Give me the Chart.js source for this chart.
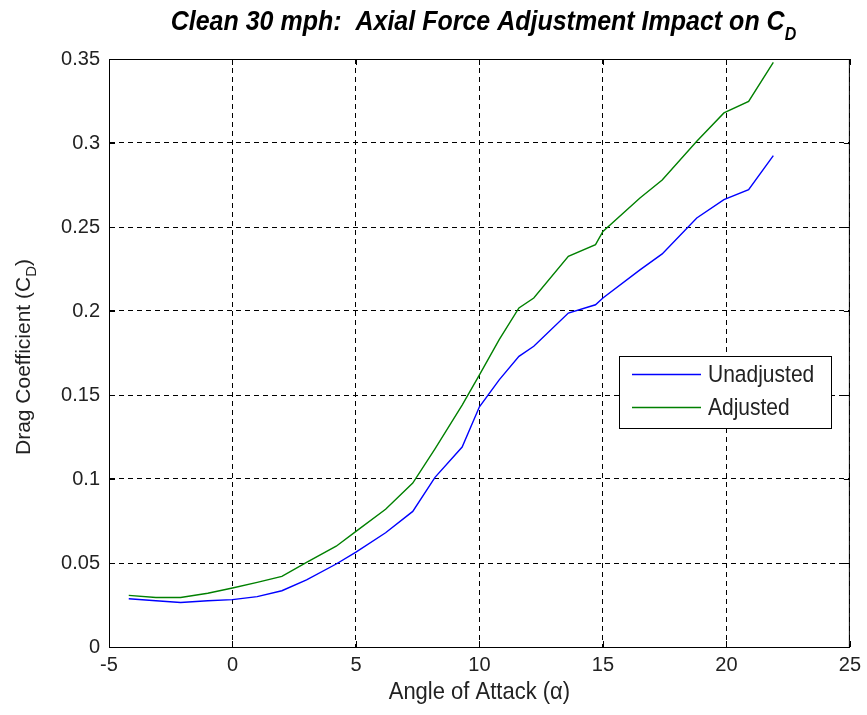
<!DOCTYPE html>
<html>
<head>
<meta charset="utf-8">
<script src="https://cdn.jsdelivr.net/npm/chart.js@4.4.1/dist/chart.umd.min.js"></script>
<style>
  html, body { margin: 0; padding: 0; background: #fff; }
  #wrap { width: 867px; height: 715px; }
</style>
</head>
<body>
<div id="wrap"><canvas id="cd-chart" width="867" height="715"></canvas></div>
<script>
// Angle of attack (deg) where the curves bend
var angles = [-4.2, -3.1, -2.1, -1.0, 0, 1, 2, 3, 4.2, 5, 6.2, 7.3, 8.2, 9.3, 10, 10.8,
              11.6, 12.2, 13.6, 14.7, 15.0, 16.5, 17.4, 18.8, 19.9, 20.9, 21.9];

// Drag coefficient, unadjusted vs axial-force adjusted
var unadjusted = [0.0287, 0.0275, 0.0265, 0.0275, 0.0282, 0.0300, 0.0335, 0.0400, 0.0494, 0.0565,
                  0.0680, 0.0807, 0.1010, 0.1190, 0.1430, 0.1590, 0.1730, 0.1790, 0.1988, 0.2037,
                  0.2077, 0.2245, 0.2340, 0.2554, 0.2663, 0.2722, 0.2925];
var adjusted = [0.0307, 0.0295, 0.0295, 0.0320, 0.0351, 0.0385, 0.0420, 0.0504, 0.0600, 0.0688,
                0.0820, 0.0976, 0.1180, 0.1440, 0.1620, 0.1830, 0.2018, 0.2077, 0.2325, 0.2395,
                0.2474, 0.2673, 0.2780, 0.3010, 0.3179, 0.3248, 0.3480];

var seriesNames = ['Unadjusted', 'Adjusted'];
var xTicks = [-5, 0, 5, 10, 15, 20, 25];
var yTicks = [0, 0.05, 0.1, 0.15, 0.2, 0.25, 0.3, 0.35];

var FONT = "'Liberation Sans', Arial, sans-serif";

function pts(ys) {
  return ys.map(function (y, i) { return { x: angles[i], y: y }; });
}

// text drawn slightly taller than wide, like the original export
function tallText(ctx, txt, x, y) {
  ctx.save();
  ctx.translate(x, y);
  ctx.scale(1, 1.1);
  ctx.fillText(txt, 0, 0);
  ctx.restore();
}

// MATLAB-like box, inward ticks, titles and legend
var matlabDecor = {
  id: 'matlabDecor',
  afterDraw: function (chart) {
    var ctx = chart.ctx;
    var a = chart.chartArea;
    var xs = chart.scales.x, ys = chart.scales.y;
    ctx.save();
    ctx.strokeStyle = '#000';
    ctx.lineWidth = 1;
    ctx.setLineDash([]);
    ctx.strokeRect(a.left + 0.5, a.top + 0.5, a.right - a.left - 1, a.bottom - a.top);

    ctx.beginPath();
    xTicks.forEach(function (v) {
      var px = Math.round(xs.getPixelForValue(v)) + 0.5;
      ctx.moveTo(px, a.bottom); ctx.lineTo(px, a.bottom - 6);
      ctx.moveTo(px, a.top); ctx.lineTo(px, a.top + 6);
    });
    yTicks.forEach(function (v) {
      var py = Math.round(ys.getPixelForValue(v)) + 0.5;
      ctx.moveTo(a.left, py); ctx.lineTo(a.left + 6, py);
      ctx.moveTo(a.right, py); ctx.lineTo(a.right - 6, py);
    });
    ctx.stroke();

    // title with subscript D
    ctx.fillStyle = '#000';
    ctx.textBaseline = 'alphabetic';
    ctx.textAlign = 'left';
    ctx.font = 'italic bold 25px ' + FONT;
    var main = 'Clean 30 mph:  Axial Force Adjustment Impact on C';
    var wMain = ctx.measureText(main).width;
    ctx.font = 'italic bold 16px ' + FONT;
    var wSub = ctx.measureText('D').width;
    var cx = (a.left + a.right) / 2;
    var x0 = cx - (wMain + wSub) / 2 + 4;
    ctx.font = 'italic bold 25px ' + FONT;
    tallText(ctx, main, x0, 30);
    ctx.font = 'italic bold 16px ' + FONT;
    tallText(ctx, 'D', x0 + wMain, 40);

    // x axis title
    ctx.fillStyle = '#222';
    ctx.font = '22px ' + FONT;
    ctx.textAlign = 'center';
    tallText(ctx, 'Angle of Attack (\u03b1)', cx, 699);

    // y axis title, rotated, with subscript D
    ctx.save();
    ctx.translate(30, 357);
    ctx.rotate(-Math.PI / 2);
    ctx.font = '21px ' + FONT;
    var yMain = 'Drag Coefficient (C';
    var wy1 = ctx.measureText(yMain).width;
    ctx.font = '15px ' + FONT;
    var wy2 = ctx.measureText('D').width;
    ctx.font = '21px ' + FONT;
    var wy3 = ctx.measureText(')').width;
    var sx = -(wy1 + wy2 + wy3) / 2;
    ctx.textAlign = 'left';
    ctx.fillText(yMain, sx, 0);
    ctx.font = '15px ' + FONT;
    ctx.fillText('D', sx + wy1, 6);
    ctx.font = '21px ' + FONT;
    ctx.fillText(')', sx + wy1 + wy2, 0);
    ctx.restore();

    // legend box inside the axes
    var lx = 619, ly = 356, lw = 212, lh = 72;
    ctx.fillStyle = '#fff';
    ctx.fillRect(lx, ly, lw, lh);
    ctx.strokeStyle = '#000';
    ctx.lineWidth = 1;
    ctx.strokeRect(lx + 0.5, ly + 0.5, lw, lh);
    ctx.font = '21px ' + FONT;
    ctx.textAlign = 'left';
    ctx.textBaseline = 'middle';
    chart.data.datasets.forEach(function (ds, i) {
      var yy = ly + 18 + i * 33;
      ctx.strokeStyle = ds.borderColor;
      ctx.lineWidth = 1.3;
      ctx.beginPath();
      ctx.moveTo(lx + 13, yy + 0.5);
      ctx.lineTo(lx + 82, yy + 0.5);
      ctx.stroke();
      ctx.fillStyle = '#222';
      tallText(ctx, ds.label, lx + 89, yy + 2);
    });
    ctx.restore();
  }
};

new Chart(document.getElementById('cd-chart').getContext('2d'), {
  type: 'line',
  data: {
    datasets: [
      { label: seriesNames[0], data: pts(unadjusted), borderColor: '#0000ff',
        borderWidth: 1.4, pointRadius: 0, tension: 0, fill: false },
      { label: seriesNames[1], data: pts(adjusted), borderColor: '#008000',
        borderWidth: 1.4, pointRadius: 0, tension: 0, fill: false }
    ]
  },
  options: {
    responsive: false,
    animation: false,
    layout: { padding: { top: 59, right: 14, left: 0, bottom: 0 } },
    plugins: {
      legend: { display: false },
      title: { display: false },
      tooltip: { enabled: false }
    },
    scales: {
      x: {
        type: 'linear',
        min: -5, max: 25,
        afterFit: function (s) { s.height = 68; },
        afterBuildTicks: function (s) { s.ticks = xTicks.map(function (v) { return { value: v }; }); },
        ticks: {
          color: '#222', padding: 6,
          font: { family: FONT, size: 20 },
          callback: function (v) { return String(v); }
        },
        grid: { color: '#000', lineWidth: 1, drawTicks: false },
        border: { display: true, color: '#000', dash: [5, 4] }
      },
      y: {
        min: 0, max: 0.35,
        afterFit: function (s) { s.width = 109; },
        afterBuildTicks: function (s) { s.ticks = yTicks.map(function (v) { return { value: v }; }); },
        ticks: {
          color: '#222', padding: 9,
          font: { family: FONT, size: 20 },
          callback: function (v) { return String(Math.round(v * 100) / 100); }
        },
        grid: { color: '#000', lineWidth: 1, drawTicks: false },
        border: { display: true, color: '#000', dash: [5, 4] }
      }
    }
  },
  plugins: [matlabDecor]
});
</script>
</body>
</html>
